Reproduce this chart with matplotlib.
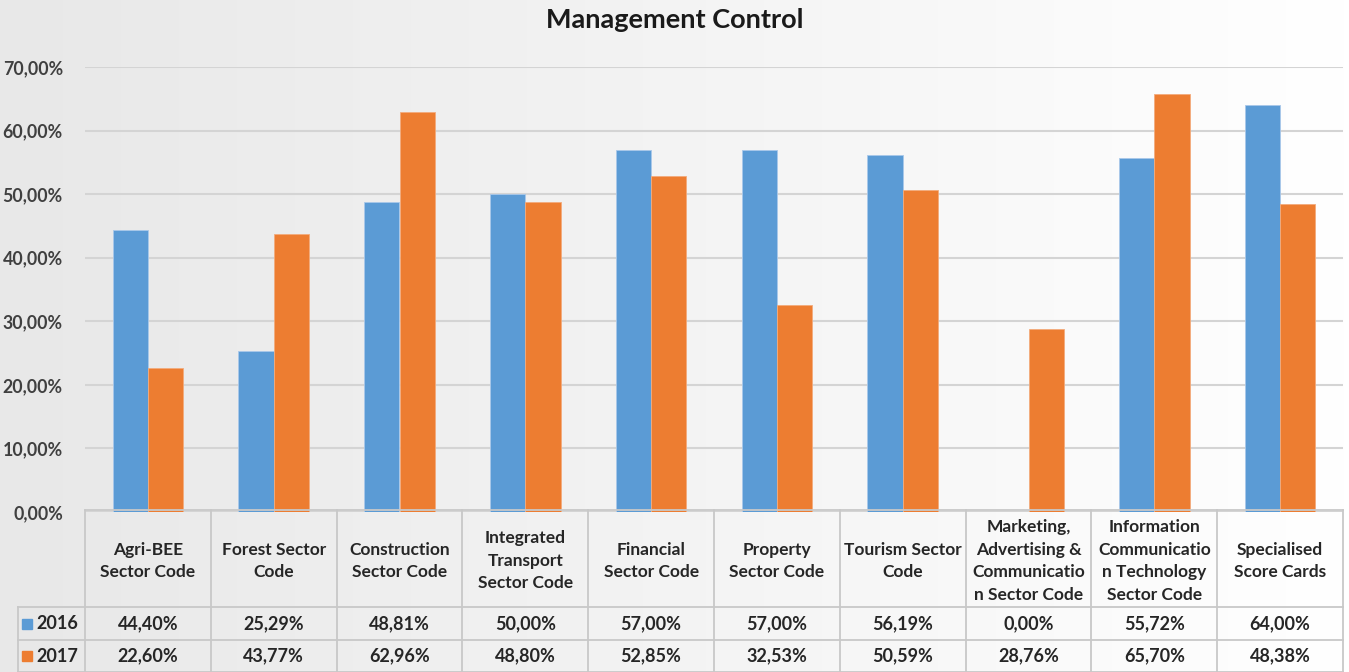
import matplotlib.pyplot as plt
import numpy as np

categories = ['Agri-BEE\nSector Code', 'Forest Sector\nCode', 'Construction\nSector Code',
              'Integrated\nTransport\nSector Code', 'Financial\nSector Code',
              'Property\nSector Code', 'Tourism Sector\nCode',
              'Marketing,\nAdvertising &\nCommunicatio\nn Sector Code',
              'Information\nCommunicatio\nn Technology\nSector Code',
              'Specialised\nScore Cards']
series_names = ['2016', '2017']
values_2016 = [44.40, 25.29, 48.81, 50.00, 57.00, 57.00, 56.19, 0.00, 55.72, 64.00]
values_2017 = [22.60, 43.77, 62.96, 48.80, 52.85, 32.53, 50.59, 28.76, 65.70, 48.38]
colors = ['#5B9BD5', '#ED7D31']

plt.rcParams['font.family'] = ['Lato', 'DejaVu Sans']
W, H = 1349, 672
fig = plt.figure(figsize=(W / 100, H / 100), dpi=100)

# background gradient (light gray on the left to white on the right)
bg = fig.add_axes([0, 0, 1, 1], zorder=-10)
grad = np.linspace(232, 255, 256).reshape(1, -1) / 255
bg.imshow(np.dstack([grad, grad, grad]), aspect='auto', extent=[0, 1, 0, 1])
bg.axis('off')

def px_box(x0, y0, x1, y1):
    return [x0 / W, 1 - y1 / H, (x1 - x0) / W, (y1 - y0) / H]

ax = fig.add_axes(px_box(85, 67, 1343, 512))
ax.patch.set_alpha(0)
x = np.arange(len(categories))
bw = 0.28
ax.bar(x - bw / 2, values_2016, bw, color=colors[0], edgecolor='#a9c8ea', linewidth=0.6, zorder=3)
ax.bar(x + bw / 2, values_2017, bw, color=colors[1], edgecolor='#f3ab7c', linewidth=0.6, zorder=3)
ax.set_xlim(-0.5, len(categories) - 0.5)
ax.set_ylim(0, 70)
ax.set_yticks(np.arange(0, 71, 10))
ax.set_yticklabels([f'{t:.2f}%'.replace('.', ',') for t in np.arange(0, 71, 10)],
                   fontsize=12.8, fontweight='bold', color='#404040')
ax.yaxis.grid(True, color='#d4d4d4', linewidth=1.5, zorder=0)
ax.tick_params(axis='y', length=0, pad=16)
ax.set_xticks([])
for s in ax.spines.values():
    s.set_visible(False)
fig.text(0.5, 1 - 20 / H, 'Management Control', ha='center', va='center',
         fontsize=19.5, fontweight='bold', color='#1a1a1a')

# data table below the axis
tb = fig.add_axes(px_box(85, 510, 1343, 672))
tb.set_xlim(-0.5, len(categories) - 0.5)
tb.set_ylim(162, 0)
tb.axis('off')
line_kw = dict(color='#c8c8c8', linewidth=1.3, clip_on=False)
left = -0.5 - 67 / 125.8
rows = [0, 97, 130, 162]
tb.plot([-0.5, 9.5], [rows[0], rows[0]], **line_kw)
for r in rows[1:]:
    tb.plot([left, 9.5], [r, r], **line_kw)
tb.plot([left, left], [rows[1], rows[3]], **line_kw)
for b in np.arange(-0.5, 10, 1):
    tb.plot([b, b], [rows[0], rows[3]], **line_kw)

for i, cat in enumerate(categories):
    tb.text(i, 51, cat, ha='center', va='center', fontsize=12.5, fontweight='bold',
            color='#262626', linespacing=1.5)
for r, (name, vals, col) in enumerate(zip(series_names, [values_2016, values_2017], colors)):
    yc = (rows[r + 1] + rows[r + 2]) / 2
    for i, v in enumerate(vals):
        tb.text(i, yc, f'{v:.2f}%'.replace('.', ','), ha='center', va='center',
                fontsize=13, fontweight='bold', color='#262626')
    tb.add_patch(plt.Rectangle((left + 0.035, yc - 5), 0.075, 10, color=col, clip_on=False))
    tb.text(left + 0.15, yc, name, ha='left', va='center', fontsize=13,
            fontweight='bold', color='#262626')

fig.savefig('out.png', dpi=100)
